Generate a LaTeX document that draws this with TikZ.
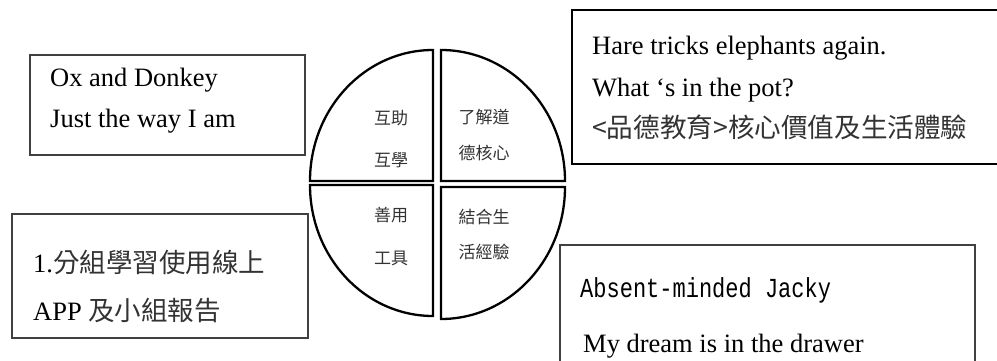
\documentclass[tikz,border=0pt]{standalone}
\usepackage{fontspec}
\setmainfont{Liberation Serif}
\newfontfamily\cjk[Color=333333]{Noto Sans CJK TC}
\newfontfamily\monofnt[FakeStretch=0.8]{Liberation Mono}
\tikzset{
  storybox/.style={draw=black!75, line width=1.2pt, inner sep=0pt, outer sep=0pt, anchor=north west},
  line/.style={inner sep=0pt, anchor=base west, font=\fontsize{26.5}{30}\selectfont},
  quarter/.style={line width=2.3pt, line join=miter},
  core/.style={inner sep=0pt, font=\cjk\fontsize{17}{20}\selectfont}
}
\begin{document}
\begin{tikzpicture}[x=1pt, y=-1pt]
    \useasboundingbox (0,0) rectangle (997,361);
    \clip (0,0) rectangle (997,361);
    % boxes round the circle
    \node[storybox, minimum width=275pt, minimum height=100pt] (oxbox) at (30,55) {};
    \node[storybox, draw=black, minimum width=440pt, minimum height=154pt] (harebox) at (572,10) {};
    \node[storybox, minimum width=296pt, minimum height=124pt] (appbox) at (12,214) {};
    \node[storybox, minimum width=415pt, minimum height=130pt] (jackybox) at (560,245) {};
    \node[line] (ox) at (50,87) {Ox and Donkey};
    \node[line] (way) at (50,128) {Just the way I am};
    \node[line] (hare) at (592,55) {Hare tricks elephants again.};
    \node[line] (pot) at (592,97) {What ‘s in the pot?};
    \node[line, font=\cjk\fontsize{26.6}{30}\selectfont] (value) at (592,138) {<品德教育>核心價值及生活體驗};
    \node[line] (group) at (33,272) {1.{\cjk 分組學習使用線上}};
    \node[line] (report) at (33,320) {APP {\cjk 及小組報告}};
    \node[line, font=\monofnt\fontsize{27.5}{30}\selectfont] (jacky) at (580,297) {Absent-minded Jacky};
    \node[line] (dream) at (583,352) {My dream is in the drawer};
    % the four quarters
    \draw[quarter] (433,181) -- (310,181) arc[start angle=180, end angle=270, x radius=123, y radius=131] -- cycle;
    \draw[quarter] (441,181) -- (441,50) arc[start angle=270, end angle=360, x radius=124, y radius=131] -- cycle;
    \draw[quarter] (433,185) -- (433,316) arc[start angle=90, end angle=180, x radius=123, y radius=131] -- cycle;
    \draw[quarter] (441,187) -- (565,187) arc[start angle=0, end angle=90, x radius=124, y radius=132] -- cycle;
    \node[core] (help) at (391,118) {互助};
    \node[core] (learn) at (391,160) {互學};
    \node[core] (know) at (484,117) {了解道};
    \node[core] (heart) at (484,153) {德核心};
    \node[core] (use) at (391,215) {善用};
    \node[core] (tool) at (391,258) {工具};
    \node[core] (join) at (484,217) {結合生};
    \node[core] (life) at (484,252) {活經驗};
\end{tikzpicture}
\end{document}
